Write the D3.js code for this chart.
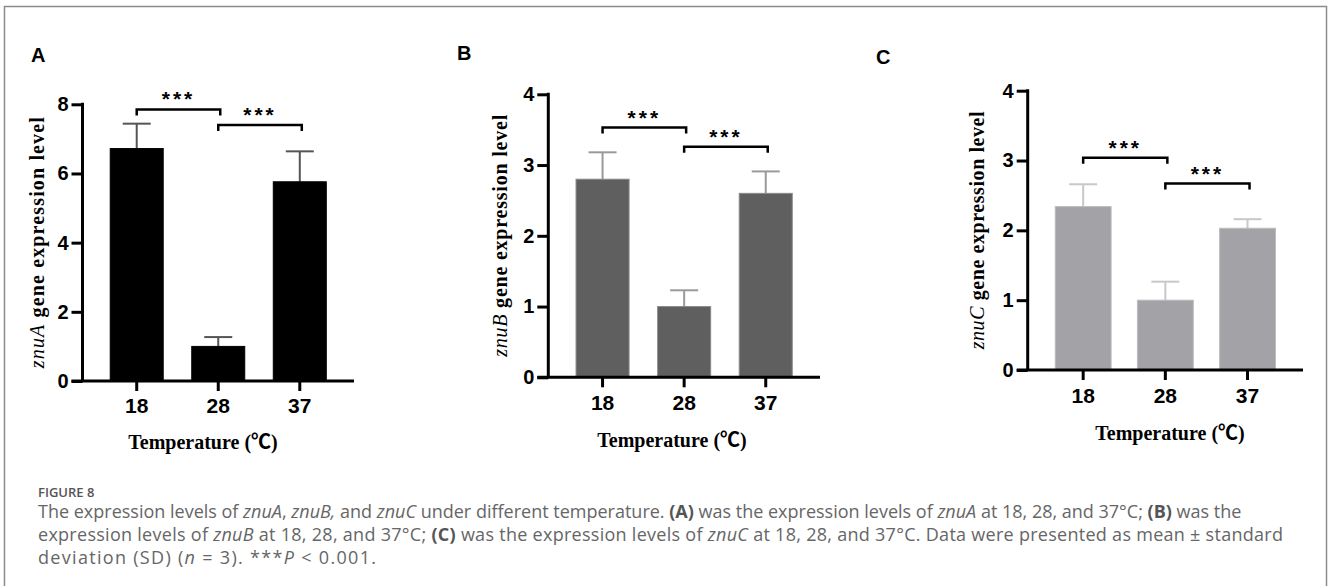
<!DOCTYPE html>
<html>
<head>
<meta charset="utf-8">
<script src="https://cdn.jsdelivr.net/npm/d3@7"></script>
<style>
  body { margin: 0; background: #fff; }
  svg { display: block; }
</style>
</head>
<body>
<svg width="1328" height="586"></svg>
<script>
// Data
const temps = ["18", "28", "37"];

const znuAMean = [6.72, 1.00, 5.76];
const znuASD = [0.72, 0.27, 0.88];
const znuBMean = [2.80, 1.00, 2.60];
const znuBSD = [0.38, 0.23, 0.31];
const znuCMean = [2.34, 1.00, 2.03];
const znuCSD = [0.32, 0.265, 0.13];

const ticksA = [0, 2, 4, 6, 8];
const ticksBC = [0, 1, 2, 3, 4];

// significance brackets: pairs and heights (data units)
const sigPairs = [["18", "28"], ["28", "37"]];
const sigA = [7.85, 7.40];
const sigB = [3.53, 3.26];
const sigC = [3.04, 2.67];

// Panel layouts
const panels = [
    { label: "A", gene: "znuA", mean: znuAMean, sd: znuASD, ticks: ticksA, sig: sigA,
      x0: 82.5, x1: 354, yTop: 104.3, yBot: 381, inner: 0.35, outer: 0.34,
      fill: "#000", edge: "#000", err: "#555",
      labX: 31, labY: 62, ylabX: 44, ylabLen: 251, xtY: 413, xtitleY: 449, xtitleX: 203 },
    { label: "B", gene: "znuB", mean: znuBMean, sd: znuBSD, ticks: ticksBC, sig: sigB,
      x0: 548.3, x1: 820, yTop: 94.3, yBot: 377.3, inner: 0.35, outer: 0.34,
      fill: "#5f5f5f", edge: "#8a8a8a", err: "#9a9a9a",
      labX: 457, labY: 60, ylabX: 507, ylabLen: 242, xtY: 410, xtitleY: 447, xtitleX: 672 },
    { label: "C", gene: "znuC", mean: znuCMean, sd: znuCSD, ticks: ticksBC, sig: sigC,
      x0: 1027.7, x1: 1303, yTop: 90.7, yBot: 370, inner: 0.32, outer: 0.335,
      fill: "#a2a2a7", edge: "#bdbdc0", err: "#c8c8c8",
      labX: 876, labY: 64, ylabX: 984, ylabLen: 238, xtY: 403, xtitleY: 440, xtitleX: 1170 }
];

const svg = d3.select("svg");

// outer frame of the figure
svg.append("rect")
    .attr("x", 4.5).attr("y", 6.5)
    .attr("width", 1322).attr("height", 620)
    .attr("fill", "none")
    .attr("stroke", "#8c8c8c")
    .attr("stroke-width", 1.5);

const sans = "Arial, 'Liberation Sans', Helvetica, sans-serif";
const serif = "'Times New Roman', 'Liberation Serif', 'Noto Sans CJK SC', serif";

panels.forEach(p => {
    const g = svg.append("g");
    const yMax = p.ticks[p.ticks.length - 1];

    const x = d3.scaleBand()
        .domain(temps)
        .range([p.x0, p.x1])
        .paddingInner(p.inner)
        .paddingOuter(p.outer);

    const y = d3.scaleLinear()
        .domain([0, yMax])
        .range([p.yBot, p.yTop]);

    const rows = temps.map((t, i) => ({ t: t, m: p.mean[i], sd: p.sd[i] }));

    // error bars (upper only), drawn behind the bars
    g.selectAll(".err")
        .data(rows)
        .enter().append("line")
        .attr("x1", d => x(d.t) + x.bandwidth() / 2)
        .attr("x2", d => x(d.t) + x.bandwidth() / 2)
        .attr("y1", d => y(d.m))
        .attr("y2", d => y(d.m + d.sd))
        .attr("stroke", p.err)
        .attr("stroke-width", 2);

    g.selectAll(".cap")
        .data(rows)
        .enter().append("line")
        .attr("x1", d => x(d.t) + x.bandwidth() / 2 - 14)
        .attr("x2", d => x(d.t) + x.bandwidth() / 2 + 14)
        .attr("y1", d => y(d.m + d.sd))
        .attr("y2", d => y(d.m + d.sd))
        .attr("stroke", p.err)
        .attr("stroke-width", 2);

    // bars
    g.selectAll(".bar")
        .data(rows)
        .enter().append("rect")
        .attr("x", d => x(d.t))
        .attr("width", x.bandwidth())
        .attr("y", d => y(d.m))
        .attr("height", d => y(0) - y(d.m))
        .attr("fill", p.fill)
        .attr("stroke", p.edge)
        .attr("stroke-width", 1);

    // y axis
    const yAxis = d3.axisLeft(y)
        .tickValues(p.ticks)
        .tickFormat(d3.format("d"))
        .tickSize(11)
        .tickSizeOuter(0)
        .tickPadding(3);
    const ya = g.append("g")
        .attr("transform", `translate(${p.x0},0)`)
        .call(yAxis);
    ya.select(".domain").remove();
    ya.selectAll(".tick line").attr("stroke", "#000").attr("stroke-width", 3);
    ya.selectAll(".tick text")
        .attr("font-family", sans)
        .attr("font-weight", "bold")
        .attr("font-size", 20)
        .attr("fill", "#000");

    // x axis
    const xAxis = d3.axisBottom(x)
        .tickSize(10)
        .tickSizeOuter(0)
        .tickPadding(6);
    const xa = g.append("g")
        .attr("transform", `translate(0,${p.yBot})`)
        .call(xAxis);
    xa.select(".domain").remove();
    xa.selectAll(".tick line").attr("stroke", "#000").attr("stroke-width", 3);
    xa.selectAll(".tick text")
        .attr("font-family", sans)
        .attr("font-weight", "bold")
        .attr("font-size", 21)
        .attr("fill", "#000")
        .attr("dy", null)
        .attr("y", p.xtY - p.yBot);

    // axis lines
    g.append("line")
        .attr("x1", p.x0).attr("x2", p.x0)
        .attr("y1", y(yMax) - 1.5).attr("y2", y(0))
        .attr("stroke", "#000").attr("stroke-width", 3);
    g.append("line")
        .attr("x1", p.x0 - 11).attr("x2", p.x1)
        .attr("y1", y(0)).attr("y2", y(0))
        .attr("stroke", "#000").attr("stroke-width", 3);

    // significance brackets
    sigPairs.forEach((pair, i) => {
        const xa1 = x(pair[0]) + x.bandwidth() / 2;
        const xb1 = x(pair[1]) + x.bandwidth() / 2 + 2;
        const yy = y(p.sig[i]);
        g.append("path")
            .attr("d", `M${xa1},${yy + 6}V${yy}H${xb1}V${yy + 6}`)
            .attr("fill", "none")
            .attr("stroke", "#000")
            .attr("stroke-width", 2.5);
        g.append("text")
            .attr("x", (xa1 + xb1) / 2)
            .attr("y", yy - 3)
            .attr("text-anchor", "middle")
            .attr("font-family", sans)
            .attr("font-weight", "bold")
            .attr("font-size", 21)
            .attr("letter-spacing", 3)
            .text("***");
    });

    // y axis title
    const yt = g.append("text")
        .attr("transform", `translate(${p.ylabX},${(p.yTop + p.yBot) / 2}) rotate(-90)`)
        .attr("text-anchor", "middle")
        .attr("font-family", serif)
        .attr("font-weight", "bold")
        .attr("font-size", 20)
        .attr("fill", "#000");
    yt.append("tspan").attr("font-style", "italic").attr("font-weight", "normal").text(p.gene);
    yt.append("tspan").text(" gene expression level");
    yt.attr("textLength", p.ylabLen).attr("lengthAdjust", "spacing");

    // x axis title
    g.append("text")
        .attr("x", p.xtitleX)
        .attr("y", p.xtitleY)
        .attr("text-anchor", "middle")
        .attr("font-family", serif)
        .attr("font-weight", "bold")
        .attr("font-size", 20)
        .text("Temperature (℃)");

    // panel letter
    g.append("text")
        .attr("x", p.labX)
        .attr("y", p.labY)
        .attr("font-family", sans)
        .attr("font-weight", "bold")
        .attr("font-size", 20)
        .text(p.label);
});

// caption
const capFont = "'Open Sans', 'Noto Sans', sans-serif";
svg.append("text")
    .attr("x", 38).attr("y", 497)
    .attr("font-family", capFont)
    .attr("font-weight", 600)
    .attr("font-size", 13)
    .attr("fill", "#555")
    .text("FIGURE 8");

const capLines = [
    [["The expression levels of ", ""], ["znuA", "i"], [", ", ""], ["znuB,", "i"], [" and ", ""], ["znuC", "i"],
     [" under different temperature. ", ""], ["(A)", "b"], [" was the expression levels of ", ""], ["znuA", "i"],
     [" at 18, 28, and 37°C; ", ""], ["(B)", "b"], [" was the", ""]],
    [["expression levels of ", ""], ["znuB", "i"], [" at 18, 28, and 37°C; ", ""], ["(C)", "b"],
     [" was the expression levels of ", ""], ["znuC", "i"],
     [" at 18, 28, and 37°C. Data were presented as mean ± standard", ""]],
    [["deviation (SD) (", ""], ["n", "i"], [" = 3). ***", ""], ["P", "i"], [" < 0.001.", ""]]
];
// line widths as measured on the reference (null = natural)
const capWidths = [null, 1245, 338];

capLines.forEach((line, i) => {
    const t = svg.append("text")
        .attr("x", 38)
        .attr("y", 518 + i * 23)
        .attr("font-family", capFont)
        .attr("font-size", 18)
        .attr("fill", "#666");
    line.forEach(([s, f]) => {
        const ts = t.append("tspan").text(s);
        if (f === "i") ts.attr("font-style", "italic");
        if (f === "b") ts.attr("font-weight", "bold").attr("fill", "#555");
    });
    if (capWidths[i]) t.attr("textLength", capWidths[i]).attr("lengthAdjust", "spacing");
});
</script>
</body>
</html>
